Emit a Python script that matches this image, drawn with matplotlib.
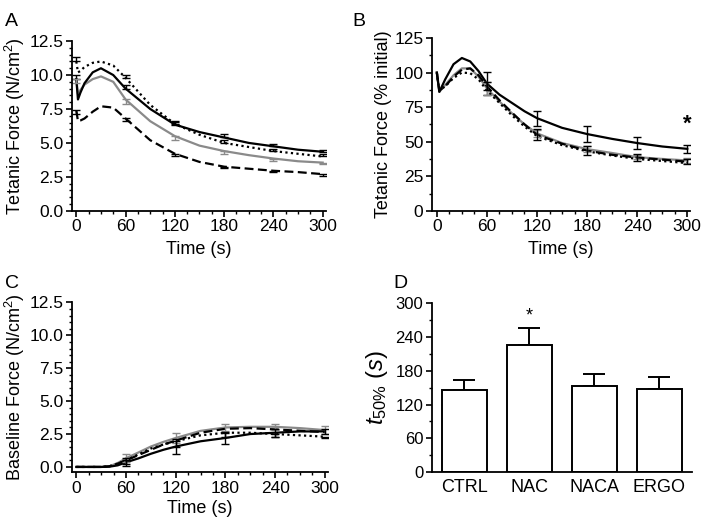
import matplotlib
matplotlib.use("Agg")
import matplotlib.pyplot as plt
from matplotlib.ticker import MultipleLocator

plt.rcParams['font.family'] = ['Liberation Sans', 'DejaVu Sans']
plt.rcParams['mathtext.fontset'] = 'custom'
plt.rcParams['mathtext.rm'] = 'Liberation Sans'
plt.rcParams['mathtext.it'] = 'Liberation Sans:italic'

GRAY = '#8a8a8a'

# ---- panel A: tetanic force (N/cm2) ----
tA = [0, 2, 5, 10, 20, 30, 45, 60, 90, 120, 150, 180, 210, 240, 270, 300]
a_solid = [9.7, 8.2, 8.7, 9.4, 10.2, 10.5, 10.0, 9.0, 7.5, 6.35, 5.8, 5.4, 5.0, 4.75, 4.5, 4.35]
a_gray = [9.7, 8.6, 8.9, 9.3, 9.7, 9.9, 9.5, 8.2, 6.6, 5.5, 4.8, 4.4, 4.1, 3.85, 3.65, 3.55]
a_dash = [7.4, 6.6, 6.65, 6.8, 7.3, 7.7, 7.6, 6.8, 5.2, 4.2, 3.6, 3.25, 3.1, 2.95, 2.85, 2.7]
a_dot = [11.0, 10.2, 10.3, 10.6, 10.9, 11.0, 10.7, 9.8, 7.8, 6.4, 5.6, 5.0, 4.7, 4.4, 4.2, 4.0]
tA_err = [0, 60, 120, 180, 240, 300]
a_solid_m = [9.7, 9.0, 6.35, 5.4, 4.75, 4.35]
a_solid_e = [0.3, 0.3, 0.2, 0.25, 0.2, 0.15]
a_gray_m = [9.7, 8.2, 5.5, 4.4, 3.85, 3.55]
a_gray_e = [0.3, 0.3, 0.25, 0.2, 0.15, 0.1]
a_dash_m = [7.4, 6.8, 4.2, 3.25, 2.95, 2.7]
a_dash_e = [0.3, 0.2, 0.15, 0.1, 0.1, 0.1]
a_dot_m = [11.0, 9.8, 6.4, 5.0, 4.4, 4.0]
a_dot_e = [0.3, 0.2, 0.2, 0.2, 0.15, 0.15]

# ---- panel B: tetanic force (% initial) ----
tB = [0, 3, 10, 20, 30, 40, 50, 60, 75, 90, 105, 120, 150, 180, 210, 240, 270, 300]
b_solid = [100, 86, 95, 106, 110.5, 108, 101, 92, 84, 78, 72, 67, 60, 55.5, 52, 49, 46.5, 44.8]
b_gray = [100, 86, 91, 98, 103, 103, 97, 88.5, 79, 70.5, 62.5, 56, 49, 44.6, 41.8, 38.8, 37.5, 36.4]
b_dash = [100, 87, 90, 97, 102, 103, 98, 90, 80, 71, 62.5, 55, 48.5, 43.5, 40.5, 38.5, 37, 35.5]
b_dot = [100, 87, 90, 96, 100, 99.5, 95, 87, 78, 69, 61, 54, 47.5, 43, 40, 37.5, 36, 34.5]
tB_err = [60, 120, 180, 240, 300]
b_solid_m = [92, 67, 55.5, 49, 44.8]
b_solid_e = [8.5, 5.5, 5.5, 4.5, 3]
b_gray_m = [88.5, 56, 44.6, 38.8, 36.4]
b_gray_e = [5, 2.5, 2, 1.5, 1.5]
b_dash_m = [90, 55, 43.5, 38.5, 35.5]
b_dash_e = [3, 4, 3, 2.5, 2]

# ---- panel C: baseline force (N/cm2) ----
tC = [0, 15, 30, 40, 50, 60, 75, 90, 105, 120, 150, 180, 210, 240, 270, 300]
c_solid = [0, 0, 0, 0.02, 0.12, 0.35, 0.65, 1.0, 1.3, 1.55, 1.95, 2.2, 2.5, 2.6, 2.7, 2.7]
c_gray = [0, 0, 0, 0.05, 0.3, 0.66, 1.1, 1.55, 1.9, 2.2, 2.74, 3.0, 3.05, 3.05, 2.95, 2.8]
c_dash = [0, 0, 0, 0.05, 0.25, 0.5, 0.9, 1.3, 1.7, 2.0, 2.6, 2.9, 2.95, 2.85, 2.75, 2.65]
c_dot = [0, 0, 0, 0.05, 0.25, 0.5, 0.95, 1.4, 1.7, 1.95, 2.4, 2.6, 2.6, 2.5, 2.4, 2.3]
tC_err = [60, 120, 180, 240, 300]
c_solid_m = [0.35, 1.55, 2.2, 2.6, 2.7]
c_solid_e = [0.3, 0.6, 0.45, 0.3, 0.2]
c_gray_m = [0.66, 2.2, 3.0, 3.05, 2.8]
c_gray_e = [0.3, 0.4, 0.25, 0.25, 0.3]
c_dot_m = [0.5, 1.95, 2.6, 2.5, 2.3]
c_dot_e = [0.3, 0.4, 0.3, 0.2, 0.1]

# ---- panel D: t50% ----
groups = ['CTRL', 'NAC', 'NACA', 'ERGO']
t50 = [145, 226, 152, 147]
t50_err = [18, 30, 23, 22]

fig = plt.figure(figsize=(7.01, 5.27), dpi=100)
axA = fig.add_axes([0.103, 0.600, 0.362, 0.322])
axB = fig.add_axes([0.616, 0.600, 0.368, 0.328])
axC = fig.add_axes([0.103, 0.104, 0.365, 0.322])
axD = fig.add_axes([0.616, 0.104, 0.371, 0.321])


def style(ax, ls=12.5):
    for s in ['top', 'right']:
        ax.spines[s].set_visible(False)
    for s in ['left', 'bottom']:
        ax.spines[s].set_linewidth(1.3)
    ax.tick_params(which='major', direction='out', length=4, width=1.2, labelsize=ls, pad=2)
    ax.tick_params(which='minor', direction='out', length=2.5, width=1.0)


def lines(ax, t, solid, gray, dash, dot):
    ax.plot(t, gray, color=GRAY, lw=1.6)
    ax.plot(t, solid, color='black', lw=1.6)
    ax.plot(t, dash, color='black', lw=1.6, ls=(0, (4, 2)))
    ax.plot(t, dot, color='black', lw=1.6, ls=(0, (1, 1.5)))


def ebar(ax, t, m, e, color, lower=False, upper=True):
    lo = e if lower else [0] * len(e)
    hi = e if upper else [0] * len(e)
    ax.errorbar(t, m, yerr=[lo, hi], fmt='none', ecolor=color, elinewidth=1.0, capsize=3, capthick=1.0)


# A
lines(axA, tA, a_solid, a_gray, a_dash, a_dot)
ebar(axA, tA_err, a_solid_m, a_solid_e, 'black')
ebar(axA, tA_err, a_gray_m, a_gray_e, GRAY, lower=True, upper=False)
ebar(axA, tA_err, a_dash_m, a_dash_e, 'black', lower=True, upper=False)
ebar(axA, tA_err, a_dot_m, a_dot_e, 'black')
axA.set_xlim(-5, 304)
axA.set_ylim(0, 12.5)
axA.set_xticks([0, 60, 120, 180, 240, 300])
axA.xaxis.set_minor_locator(MultipleLocator(15))
axA.set_yticks([0, 2.5, 5, 7.5, 10, 12.5])
axA.set_yticklabels(['0.0', '2.5', '5.0', '7.5', '10.0', '12.5'])
axA.yaxis.set_minor_locator(MultipleLocator(0.5))
axA.set_xlabel('Time (s)', fontsize=13, labelpad=5)
axA.set_ylabel('Tetanic Force (N/cm$^2$)', fontsize=13, labelpad=2)
style(axA)

# B
lines(axB, tB, b_solid, b_gray, b_dash, b_dot)
ebar(axB, tB_err, b_solid_m, b_solid_e, 'black', lower=True)
ebar(axB, tB_err, b_gray_m, b_gray_e, GRAY, lower=True)
ebar(axB, tB_err, b_dash_m, b_dash_e, 'black', lower=True)
axB.text(300, 55, '*', ha='center', va='bottom', fontsize=16, fontweight='bold')
axB.set_xlim(-6, 303)
axB.set_ylim(0, 125)
axB.set_xticks([0, 60, 120, 180, 240, 300])
axB.xaxis.set_minor_locator(MultipleLocator(15))
axB.set_yticks([0, 25, 50, 75, 100, 125])
axB.yaxis.set_minor_locator(MultipleLocator(12.5))
axB.set_xlabel('Time (s)', fontsize=13, labelpad=5)
axB.set_ylabel('Tetanic Force (% initial)', fontsize=13, labelpad=2)
style(axB)

# C
lines(axC, tC, c_solid, c_gray, c_dash, c_dot)
ebar(axC, tC_err, c_gray_m, c_gray_e, GRAY, lower=True)
ebar(axC, tC_err, c_solid_m, c_solid_e, 'black', lower=True)
ebar(axC, tC_err, c_dot_m, c_dot_e, 'black', lower=True, upper=False)
axC.set_xlim(-5, 304)
axC.set_ylim(-0.4, 12.5)
axC.set_xticks([0, 60, 120, 180, 240, 300])
axC.xaxis.set_minor_locator(MultipleLocator(15))
axC.set_yticks([0, 2.5, 5, 7.5, 10, 12.5])
axC.set_yticklabels(['0.0', '2.5', '5.0', '7.5', '10.0', '12.5'])
axC.yaxis.set_minor_locator(MultipleLocator(0.5))
axC.set_xlabel('Time (s)', fontsize=13, labelpad=3)
axC.set_ylabel('Baseline Force (N/cm$^2$)', fontsize=13, labelpad=2)
style(axC)

# D
xD = range(len(groups))
axD.bar(xD, t50, width=0.69, color='white', edgecolor='black', linewidth=1.4, zorder=2)
axD.errorbar(xD, t50, yerr=[[0] * 4, t50_err], fmt='none', ecolor='black', elinewidth=1.4,
             capsize=8, capthick=1.4, zorder=1)
axD.text(1, t50[1] + t50_err[1] + 6, '*', ha='center', va='bottom', fontsize=13)
axD.set_xlim(-0.5, 3.5)
axD.set_ylim(0, 300)
axD.set_xticks(list(xD))
axD.set_xticklabels(groups)
axD.set_yticks([0, 60, 120, 180, 240, 300])
axD.yaxis.set_minor_locator(MultipleLocator(30))
axD.set_ylabel(r'$t_{50\%}$ $(s)$', fontsize=17, labelpad=4)
style(axD, ls=12)
axD.tick_params(axis='x', length=0, labelsize=13, pad=5)

for lbl, x, y in [('A', 0.007, 0.975), ('B', 0.503, 0.975), ('C', 0.007, 0.478), ('D', 0.561, 0.478)]:
    fig.text(x, y, lbl, fontsize=14, ha='left', va='top')

fig.savefig('out.png', dpi=100)
